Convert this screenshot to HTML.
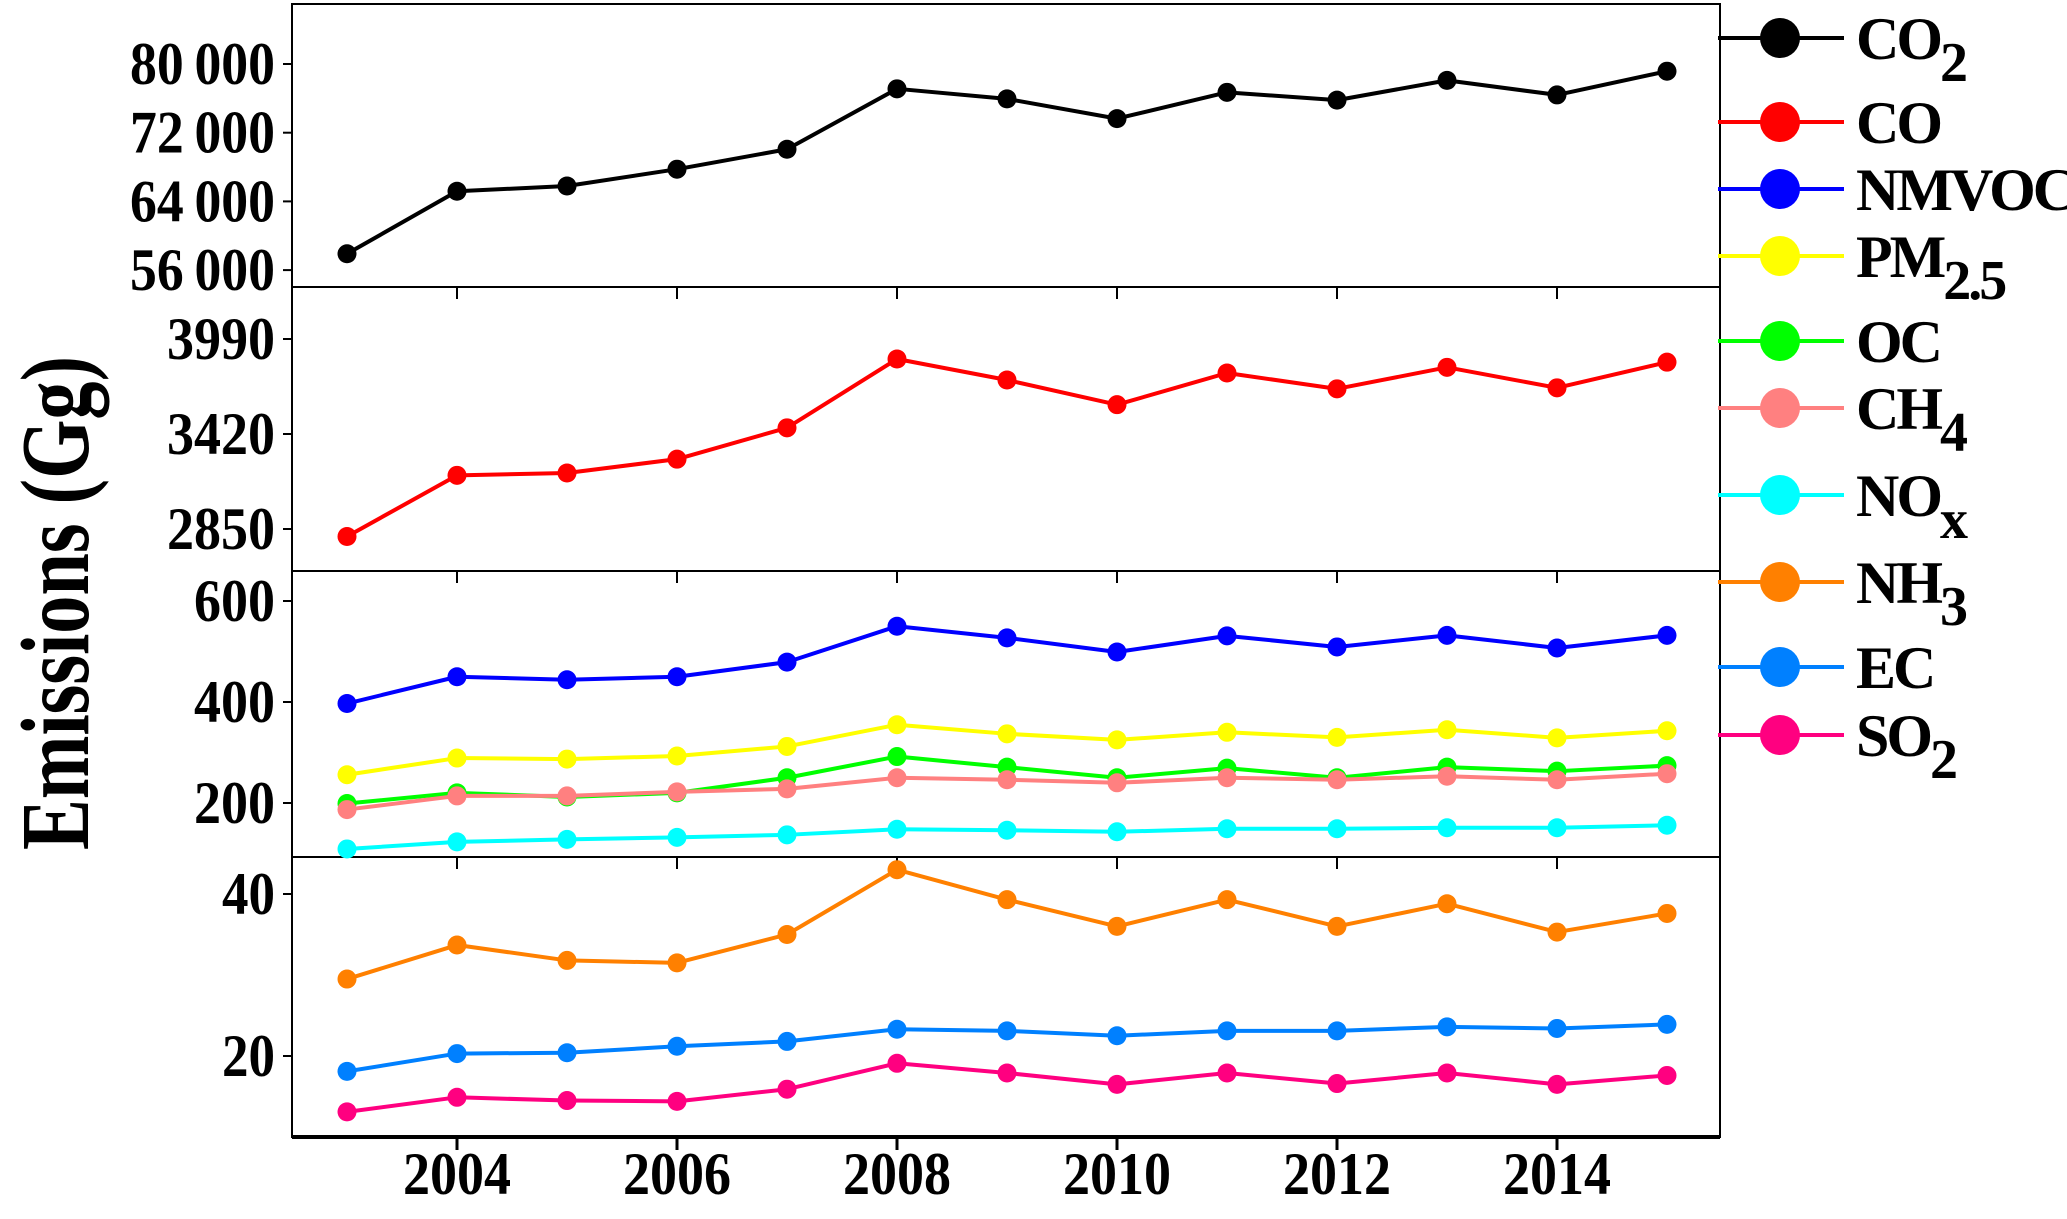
<!DOCTYPE html>
<html><head><meta charset="utf-8"><style>
html,body{margin:0;padding:0;background:#fff;}
svg{display:block;font-family:"Liberation Serif",serif;font-weight:bold;}
</style></head><body>
<svg id="chart" width="2067" height="1219" viewBox="0 0 2067 1219" xmlns="http://www.w3.org/2000/svg">
<text transform="translate(88,603) rotate(-90)" text-anchor="middle" font-size="98" textLength="494" lengthAdjust="spacingAndGlyphs">Emissions (Gg)</text>
</svg>
<script>
const years=[2003,2004,2005,2006,2007,2008,2009,2010,2011,2012,2013,2014,2015];
const xTicks=[2004,2006,2008,2010,2012,2014];
const co2=[57900,65180,65790,67750,70070,77110,75940,73640,76700,75790,78090,76400,79160];
const co=[2805,3172,3186,3269,3457,3870,3744,3596,3786,3691,3820,3697,3851];
const nmvoc=[397,450,444,450,479,550,527,499,531,509,532,507,532];
const pm25=[256,289,287,293,312,355,337,325,340,330,345,329,343];
const oc=[199,220,212,220,250,292,271,250,269,250,271,263,274];
const ch4=[187,214,214,222,228,250,246,240,250,246,253,246,258];
const nox=[109,123,128,132,137,148,146,143,149,149,151,151,156];
const nh3=[29.5,33.7,31.8,31.5,35.0,43.0,39.3,36.0,39.3,36.0,38.8,35.3,37.6];
const ec=[18.1,20.3,20.4,21.2,21.8,23.3,23.1,22.5,23.1,23.1,23.6,23.4,23.9];
const so2=[13.1,14.9,14.5,14.4,15.9,19.1,17.9,16.5,17.9,16.6,17.9,16.5,17.6];
const ticks1=[56000,64000,72000,80000];
const ticks2=[2850,3420,3990];
const ticks3=[200,400,600];
const ticks4=[20,40];

const NS="http://www.w3.org/2000/svg";
const svg=document.getElementById('chart');
function mk(tag,attrs,parent){const e=document.createElementNS(NS,tag);for(const k in attrs)e.setAttribute(k,attrs[k]);(parent||svg).appendChild(e);return e;}
const L=292,R=1720;
const xS=y=>347+(y-2003)*110;
// panels: top,bottom,refValue,refY,pxPerUnit
const panels=[
 {top:4,bot:287,v0:80000,y0:64,k:68.7/8000,ticks:ticks1,fmt:v=>String(v).replace(/(\d{2})(\d{3})$/,'$1\u2009$2'),tl:145},
 {top:287,bot:571,v0:3990,y0:339,k:95/570,ticks:ticks2,fmt:v=>String(v),tl:108},
 {top:571,bot:857,v0:600,y0:601,k:101/200,ticks:ticks3,fmt:v=>String(v),tl:81},
 {top:857,bot:1137,v0:40,y0:894,k:162/20,ticks:ticks4,fmt:v=>String(v),tl:53}
];
panels.forEach((p,i)=>{
  p.y=v=>p.y0+(p.v0-v)*p.k;
  const f=mk('rect',{x:L,y:p.top,width:R-L,height:p.bot-p.top,fill:'none',stroke:'#000','stroke-width':2});
  
  
  if(i>0){xTicks.forEach(t=>{const tk=mk('line',{x1:xS(t),x2:xS(t),y1:p.top,y2:p.top+12,stroke:'#000','stroke-width':2});
    
    });}
  p.ticks.forEach(v=>{
    const yy=p.y(v);
    const tk=mk('line',{x1:L-9,x2:L,y1:yy,y2:yy,stroke:'#000','stroke-width':2});
    
    
    const t=mk('text',{x:L-17,y:yy+20,'text-anchor':'end','font-size':60,textLength:p.tl,lengthAdjust:'spacingAndGlyphs'});
    t.textContent=p.fmt(v);
    
    
  });
});
const ax=mk('line',{x1:L,x2:R,y1:1137,y2:1137,stroke:'#000','stroke-width':4});


xTicks.forEach(t=>{
  const tk=mk('line',{x1:xS(t),x2:xS(t),y1:1137,y2:1150,stroke:'#000','stroke-width':3});
  
  
  const lb=mk('text',{x:xS(t),y:1194,'text-anchor':'middle','font-size':60,textLength:108,lengthAdjust:'spacingAndGlyphs'});
  lb.textContent=t;
  
  
});
const series=[
 {name:'co2',data:co2,p:0,c:'#000000'},
 {name:'co',data:co,p:1,c:'#ff0000'},
 {name:'nmvoc',data:nmvoc,p:2,c:'#0000ff'},
 {name:'pm25',data:pm25,p:2,c:'#ffff00'},
 {name:'oc',data:oc,p:2,c:'#00ff00'},
 {name:'ch4',data:ch4,p:2,c:'#ff8080'},
 {name:'nox',data:nox,p:2,c:'#00ffff'},
 {name:'nh3',data:nh3,p:3,c:'#ff8000'},
 {name:'ec',data:ec,p:3,c:'#0080ff'},
 {name:'so2',data:so2,p:3,c:'#ff0080'}
];
series.forEach(s=>{
  const p=panels[s.p];
  const g=mk('g',{});
  
  
  const pts=s.data.map((v,i)=>xS(years[i])+','+p.y(v)).join(' ');
  const pl=mk('polyline',{points:pts,fill:'none',stroke:s.c,'stroke-width':4,'stroke-linejoin':'round'},g);
  
  
  s.data.forEach((v,i)=>{
    const c=mk('circle',{cx:xS(years[i]),cy:p.y(v),r:9.5,fill:s.c},g);
    
    
  });
});
const legendY=[38,122,189,256,341,408,495,582,667,735];
const legendLabels=[['CO','2'],['CO',''],['NMVOC',''],['PM','2.5'],['OC',''],['CH','4'],['NO','x'],['NH','3'],['EC',''],['SO','2']];
series.forEach((s,i)=>{
  const g=mk('g',{});
  
  
  const y=legendY[i];
  mk('line',{x1:1718,x2:1844,y1:y,y2:y,stroke:s.c,'stroke-width':4},g);
  mk('circle',{cx:1780,cy:y,r:20,fill:s.c},g);
  const t=mk('text',{x:1856,y:y+21,'font-size':60,'letter-spacing':-3},g);
  t.textContent=legendLabels[i][0];
  if(legendLabels[i][1]){const sb=mk('tspan',{dy:22,'font-size':56},t);sb.textContent=legendLabels[i][1];}
});
</script>
</body></html>
